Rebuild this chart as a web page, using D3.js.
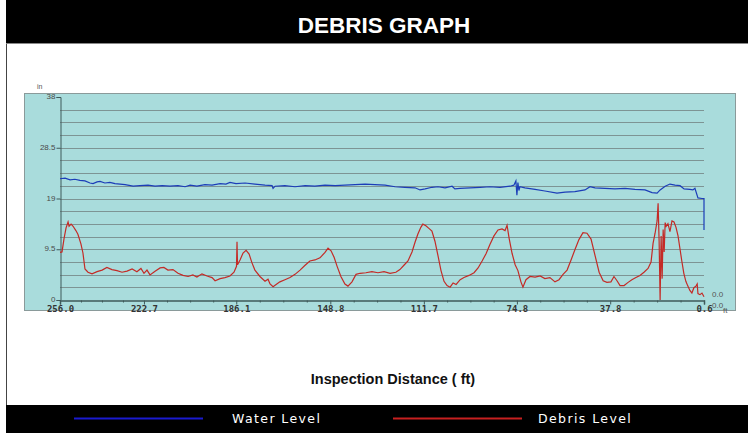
<!DOCTYPE html>
<html>
<head>
<meta charset="utf-8">
<script src="https://cdn.jsdelivr.net/npm/d3@7"></script>
<style>
  body { margin: 0; background: #fff; }
  svg { display: block; }
</style>
</head>
<body>
<div id="chart"></div>
<script>
// inspection distance (ft) and levels (in)
var waterDist = [256.0, 254.0, 252.0, 250.1, 248.1, 246.1, 244.1, 242.9, 241.3, 240.1, 238.2, 236.2, 234.2, 232.2, 230.2,
  227.0, 224.3, 221.1, 218.3, 215.5, 212.4, 209.2, 206.4, 204.4, 201.7, 198.5, 195.7, 192.5, 190.2, 188.6, 186.2,
  182.6, 178.7, 174.7, 171.9, 171.5, 170.7, 166.8, 162.8, 158.8, 154.9, 150.9, 146.9, 143.0, 139.0, 135.0, 131.1,
  127.1, 123.1, 119.2, 115.2, 113.2, 111.2, 108.5, 106.1, 103.3, 100.5, 99.4, 97.4, 93.4, 89.4, 85.5, 81.5, 77.5,
  76.0, 75.2, 74.8, 74.4, 74.0, 73.6, 71.6, 67.6, 63.7, 58.9, 55.7, 51.8, 47.8, 45.8, 43.8, 39.9, 35.9, 31.9, 28.0,
  24.0, 21.2, 19.2, 18.0, 16.0, 14.1, 12.1, 10.1, 8.5, 6.2, 5.0, 4.2, 3.0, 1.4, 0.6, 0.6]
var waterLevel = [22.7, 22.8, 22.5, 22.6, 22.4, 22.3, 21.9, 21.8, 22.1, 22.2, 21.9, 22.0, 21.8, 21.7, 21.6,
  21.3, 21.4, 21.5, 21.3, 21.4, 21.3, 21.4, 21.2, 21.5, 21.3, 21.6, 21.5, 21.8, 21.7, 22.0, 21.8,
  21.9, 21.7, 21.5, 21.4, 20.9, 21.3, 21.4, 21.2, 21.4, 21.3, 21.5, 21.4, 21.5, 21.6, 21.7, 21.6,
  21.5, 21.2, 21.1, 21.0, 20.6, 20.8, 21.1, 21.2, 21.0, 21.3, 20.8, 20.9, 21.0, 21.1, 21.2, 21.1, 21.3,
  21.5, 22.3, 19.6, 22.0, 20.5, 21.2, 21.0, 20.7, 20.4, 20.0, 20.2, 20.3, 20.6, 21.2, 21.0, 20.9, 20.8, 20.9, 20.7,
  20.6, 20.1, 20.0, 20.6, 21.3, 21.7, 21.5, 21.4, 20.8, 20.7, 20.6, 20.9, 19.1, 19.0, 19.0, 13.1]

var debrisDist = [256.0, 255.2, 254.4, 253.6, 252.8, 252.4, 251.6, 250.8, 249.7, 248.9, 247.7, 246.9, 246.1, 244.9,
  243.3, 241.3, 239.3, 237.4, 235.4, 233.4, 231.4, 229.4, 227.4, 225.5, 223.9, 222.7, 221.5, 220.3, 218.3, 216.3,
  214.8, 213.2, 211.2, 209.2, 207.2, 205.2, 203.3, 201.7, 199.7, 197.7, 195.7, 194.5, 192.5, 190.6, 188.6, 187.0,
  186.0, 185.8, 185.6, 184.6, 183.4, 182.2, 181.0, 179.9, 178.7, 176.7, 174.7, 173.5, 172.7, 171.5, 170.3, 168.8,
  166.8, 164.8, 162.8, 160.8, 158.8, 156.9, 154.9, 152.9, 150.9, 149.7, 148.5, 147.3, 146.1, 144.6, 143.0, 141.8,
  140.2, 138.6, 137.0, 134.7, 132.3, 129.9, 127.5, 125.1, 122.8, 121.2, 119.6, 118.0, 116.4, 115.2, 114.1, 112.9,
  112.1, 110.9, 109.7, 108.5, 107.3, 106.1, 104.9, 103.7, 102.5, 101.3, 100.1, 98.9, 97.3, 95.8, 93.8, 91.8, 90.2,
  88.6, 87.0, 85.5, 83.9, 82.3, 80.7, 79.5, 78.7, 77.9, 76.7, 75.5, 74.4, 73.2, 72.4, 71.2, 69.6, 67.6, 65.6, 63.7,
  61.7, 59.7, 58.1, 56.5, 54.9, 53.4, 51.8, 50.2, 48.6, 47.0, 45.4, 43.8, 42.2, 40.6, 39.1, 37.5, 36.3, 35.1, 33.9,
  32.3, 30.7, 29.2, 27.6, 26.0, 24.4, 22.8, 21.6, 20.8, 20.0, 19.2, 18.8, 18.4, 18.0, 17.6, 17.2, 16.8, 16.4, 16.0,
  15.6, 14.9, 14.1, 13.3, 12.5, 11.7, 10.9, 10.1, 9.4, 8.6, 7.8, 7.0, 6.2, 5.4, 4.6, 3.8, 3.3, 3.0, 2.2, 1.4, 0.6]
var debrisLevel = [8.9, 9.0, 11.5, 13.5, 14.6, 13.8, 14.2, 13.8, 13.0, 12.3, 10.5, 8.8, 5.8, 5.2,
  4.9, 5.3, 5.6, 6.1, 5.7, 5.5, 5.2, 5.4, 5.8, 5.3, 5.9, 5.0, 5.6, 4.7, 5.4, 6.0,
  6.1, 5.6, 5.7, 5.0, 4.6, 4.4, 4.7, 4.3, 4.9, 4.5, 4.2, 3.6, 4.0, 4.2, 4.5, 5.2,
  6.3, 10.9, 6.6, 7.5, 8.8, 9.3, 8.6, 7.0, 5.6, 4.4, 3.5, 3.9, 3.0, 2.5, 2.9, 3.4,
  3.8, 4.2, 4.8, 5.6, 6.5, 7.3, 7.5, 7.9, 8.9, 9.7, 9.2, 8.0, 6.3, 4.4, 3.0, 2.6,
  3.4, 4.8, 5.0, 5.1, 5.3, 5.1, 5.3, 5.0, 5.2, 5.7, 6.5, 7.3, 9.0, 10.8, 12.3, 13.6,
  14.2, 13.9, 13.4, 12.9, 11.0, 8.3, 5.5, 3.5, 2.7, 2.4, 3.2, 2.9, 3.8, 4.2, 4.6, 5.1, 6.0,
  7.3, 8.7, 10.4, 12.0, 13.1, 13.3, 13.0, 14.0, 11.6, 8.7, 6.6, 5.5, 3.4, 2.4, 3.8, 4.4, 4.3, 4.5, 4.0,
  4.2, 3.4, 3.8, 4.8, 5.6, 7.4, 9.4, 11.3, 12.6, 12.5, 11.4, 8.3, 5.2, 3.6, 3.3, 3.4, 4.4, 3.6, 2.7,
  2.7, 3.3, 3.8, 4.2, 4.6, 5.2, 5.9, 7.1, 10.6, 12.5, 14.8, 18.1, 11.0, 0.0, 12.0, 4.0, 13.2, 9.0, 14.5,
  13.8, 14.3, 12.8, 14.8, 14.6, 13.6, 12.0, 9.5, 7.3, 5.0, 3.5, 2.6, 1.8, 1.3, 2.3, 2.6, 3.0, 1.2, 1.0, 1.3, 0.6]

var xTickValues = [256.0, 222.7, 186.1, 148.8, 111.7, 74.8, 37.8, 0.6]
var yTickValues = [0, 9.5, 19, 28.5, 38]
var seriesNames = ["Water Level", "Debris Level"]
var seriesColors = ["#1c3db8", "#c42a26"]

var W = 748, H = 433
var svg = d3.select("#chart").append("svg").attr("width", W).attr("height", H)

// frame + title bar
svg.append("rect").attr("x", 6.5).attr("y", 0.5).attr("width", W).attr("height", H - 1)
  .attr("fill", "#fff").attr("stroke", "#444")
svg.append("rect").attr("x", 6).attr("y", 0).attr("width", W - 6).attr("height", 43).attr("fill", "#000")
svg.append("line").attr("x1", 6).attr("x2", W).attr("y1", 43.5).attr("y2", 43.5).attr("stroke", "#888")
svg.append("text").attr("x", 384).attr("y", 33).attr("text-anchor", "middle")
  .attr("fill", "#fff").attr("font-family", "Liberation Sans, Arial, sans-serif")
  .attr("font-size", 22.5).attr("font-weight", "bold").text("DEBRIS GRAPH")

// chart panel
svg.append("rect").attr("x", 24.5).attr("y", 93.5).attr("width", 711).attr("height", 217)
  .attr("fill", "#a9dcdc").attr("stroke", "#8a9a9a")

var x = d3.scaleLinear().domain([256, 0.6]).range([60, 704])
var y = d3.scaleLinear().domain([0, 38]).range([300, 97])

// grid
var grid = d3.range(1, 16).map(function(i) { return i * 38 / 16 })
svg.append("g").selectAll("line").data(grid).enter().append("line")
  .attr("x1", 60).attr("x2", 704)
  .attr("y1", function(d) { return Math.round(y(d)) + 0.5 })
  .attr("y2", function(d) { return Math.round(y(d)) + 0.5 })
  .attr("stroke", "#7d9494").attr("stroke-width", 1)

// axes
var yAxis = svg.append("g").attr("transform", "translate(60.5,0)")
  .call(d3.axisLeft(y).tickValues(yTickValues).tickSize(4).tickFormat(function(d) { return d }))
yAxis.select(".domain").attr("stroke", "#3f5a5a")
yAxis.selectAll(".tick line").attr("stroke", "#3f5a5a")
yAxis.selectAll("text").attr("font-size", 8).attr("fill", "#4a4a4a")
  .attr("font-family", "Liberation Sans, Arial, sans-serif").attr("x", -5).attr("dy", "0.2em")

var minor = []
for (var i = 0; i < xTickValues.length - 1; i++) {
  for (var k = 1; k < 4; k++) minor.push(xTickValues[i] + (xTickValues[i + 1] - xTickValues[i]) * k / 4)
}
var xMinor = svg.append("g").attr("transform", "translate(0,300.5)")
  .call(d3.axisBottom(x).tickValues(minor).tickSize(2).tickFormat(""))
xMinor.select(".domain").remove()
xMinor.selectAll("line").attr("stroke", "#3f5a5a")

var xAxis = svg.append("g").attr("transform", "translate(0,300.5)")
  .call(d3.axisBottom(x).tickValues(xTickValues).tickSize(4).tickFormat(d3.format(".1f")))
xAxis.select(".domain").attr("stroke", "#3f5a5a").attr("stroke-width", 1.5)
xAxis.selectAll(".tick line").attr("stroke", "#3f5a5a")
xAxis.selectAll("text").attr("font-size", 9).attr("font-weight", "bold").attr("fill", "#333")
  .attr("font-family", "DejaVu Sans Mono, monospace").attr("y", 5).attr("dy", "0.71em")

// small unit labels
var small = svg.append("g").attr("font-family", "Liberation Sans, Arial, sans-serif").attr("fill", "#555")
small.append("text").attr("x", 37).attr("y", 89).attr("font-size", 7).text("in")
small.append("text").attr("x", 723).attr("y", 313).attr("font-size", 8).text("ft")
small.append("text").attr("x", 712).attr("y", 297).attr("font-size", 8).text("0.0")
small.append("text").attr("x", 712).attr("y", 308).attr("font-size", 8).text("0.0")

// lines
var line = d3.line().x(function(d) { return x(d[0]) }).y(function(d) { return y(d[1]) })
var water = d3.zip(waterDist, waterLevel)
var debris = d3.zip(debrisDist, debrisLevel)
svg.append("path").datum(water).attr("d", line).attr("fill", "none")
  .attr("stroke", seriesColors[0]).attr("stroke-width", 1.2)
svg.append("path").datum(debris).attr("d", line).attr("fill", "none")
  .attr("stroke", seriesColors[1]).attr("stroke-width", 1.2)

// axis title
svg.append("text").attr("x", 393).attr("y", 384).attr("text-anchor", "middle")
  .attr("font-family", "Liberation Sans, Arial, sans-serif").attr("font-size", 14.5)
  .attr("font-weight", "bold").attr("fill", "#111").text("Inspection Distance ( ft)")

// legend bar
svg.append("rect").attr("x", 6).attr("y", 405).attr("width", W - 6).attr("height", 28).attr("fill", "#000")
var legX = [[74, 203, 232], [393, 522, 538]]
seriesNames.forEach(function(name, i) {
  svg.append("line").attr("x1", legX[i][0]).attr("x2", legX[i][1]).attr("y1", 418.5).attr("y2", 418.5)
    .attr("stroke", i === 0 ? "#1a1ad0" : "#c82020").attr("stroke-width", 2)
  svg.append("text").attr("x", legX[i][2]).attr("y", 423).attr("fill", "#fff")
    .attr("font-family", "DejaVu Sans, Verdana, sans-serif").attr("font-size", 12.5)
    .attr("letter-spacing", 1.4).text(name)
})
</script>
</body>
</html>
